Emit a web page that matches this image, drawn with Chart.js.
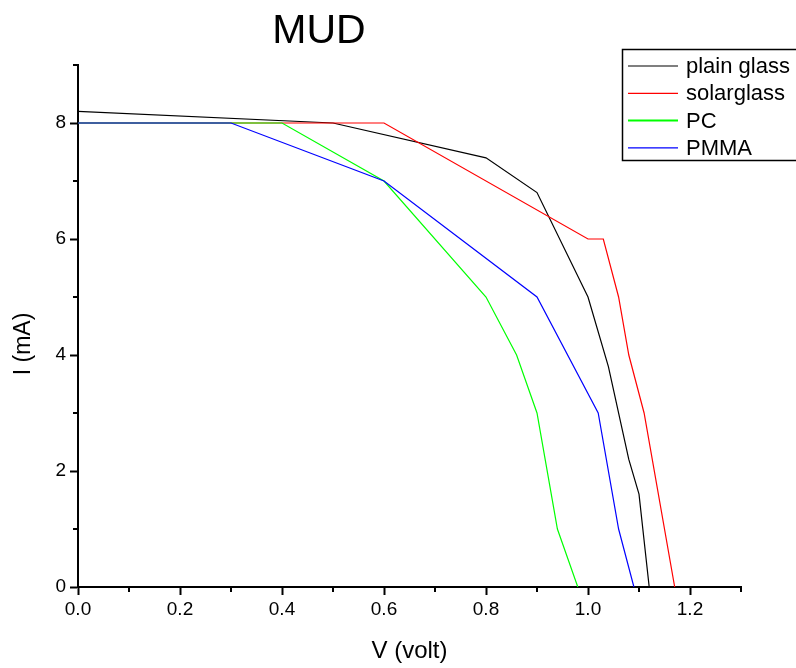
<!DOCTYPE html>
<html>
<head>
<meta charset="utf-8">
<script src="https://cdn.jsdelivr.net/npm/chart.js@4.4.1/dist/chart.umd.min.js"></script>
<style>
  body { margin: 0; background: #fff; }
  canvas { display: block; }
</style>
</head>
<body>
<canvas id="iv-chart" width="796" height="668"></canvas>
<script>
// valores (V em volt, I em mA)
const voltPlain = [0, 0.5, 0.8, 0.9, 1.0, 1.04, 1.08, 1.1, 1.12];
const currentPlain = [8.2, 8.0, 7.4, 6.8, 5.0, 3.8, 2.2, 1.6, 0];

const voltSolar = [0, 0.6, 1.0, 1.03, 1.06, 1.08, 1.11, 1.17];
const currentSolar = [8, 8, 6, 6, 5, 4, 3, 0];

const voltPC = [0, 0.4, 0.6, 0.8, 0.86, 0.9, 0.94, 0.98];
const currentPC = [8, 8, 7, 5, 4, 3, 1, 0];

const voltPMMA = [0, 0.3, 0.6, 0.9, 1.02, 1.06, 1.09];
const currentPMMA = [8, 8, 7, 5, 3, 1, 0];

const seriesNames = ['plain glass', 'solarglass', 'PC', 'PMMA'];
const seriesColors = ['#000000', '#ff0000', '#00ff00', '#0000ff'];

const minorTicksX = [0.1, 0.3, 0.5, 0.7, 0.9, 1.1, 1.3];
const minorTicksY = [1, 3, 5, 7, 9];

const fontFamily = '"Liberation Sans", Arial, sans-serif';

function toPoints(xs, ys) {
  return xs.map((v, i) => ({ x: v, y: ys[i] }));
}

const allSeries = [
  toPoints(voltPlain, currentPlain),
  toPoints(voltSolar, currentSolar),
  toPoints(voltPC, currentPC),
  toPoints(voltPMMA, currentPMMA),
];

// titulo, eixo I, ticks menores e legenda desenhados a mao
const extrasPlugin = {
  id: 'extras',
  afterDraw(chart) {
    const { ctx } = chart;
    const xScale = chart.scales.x;
    const yScale = chart.scales.y;
    ctx.save();

    ctx.strokeStyle = '#000';
    ctx.lineWidth = 2;
    for (const v of minorTicksX) {
      const px = xScale.getPixelForValue(v);
      ctx.beginPath();
      ctx.moveTo(px, yScale.bottom);
      ctx.lineTo(px, yScale.bottom + 5);
      ctx.stroke();
    }
    for (const v of minorTicksY) {
      const py = yScale.getPixelForValue(v);
      ctx.beginPath();
      ctx.moveTo(xScale.left, py);
      ctx.lineTo(xScale.left - 5, py);
      ctx.stroke();
    }

    ctx.fillStyle = '#000';
    ctx.font = '41px ' + fontFamily;
    ctx.textAlign = 'center';
    ctx.textBaseline = 'alphabetic';
    ctx.fillText('MUD', 319, 43);

    ctx.save();
    ctx.translate(24, 344);
    ctx.rotate(-Math.PI / 2);
    ctx.font = '23px ' + fontFamily;
    ctx.textBaseline = 'middle';
    ctx.fillText('I (mA)', 0, 0);
    ctx.restore();

    // legenda
    ctx.lineWidth = 1.5;
    ctx.strokeStyle = '#000';
    ctx.strokeRect(622.5, 49.5, 190, 111);
    ctx.font = '22px ' + fontFamily;
    ctx.textAlign = 'left';
    ctx.textBaseline = 'middle';
    seriesNames.forEach((name, i) => {
      const rowY = 66 + i * 27.3;
      ctx.strokeStyle = seriesColors[i];
      ctx.lineWidth = i === 2 ? 2 : 1.2;
      ctx.beginPath();
      ctx.moveTo(628, rowY);
      ctx.lineTo(678, rowY);
      ctx.stroke();
      ctx.fillStyle = '#000';
      ctx.fillText(name, 686, rowY + 1);
    });

    ctx.restore();
  },
};

const chart = new Chart(document.getElementById('iv-chart'), {
  type: 'line',
  data: {
    datasets: allSeries.map((points, i) => ({
      label: seriesNames[i],
      data: points,
      borderColor: seriesColors[i],
      backgroundColor: seriesColors[i],
      borderWidth: 1.2,
      pointRadius: 0,
      tension: 0,
      fill: false,
      order: -i, // ultima serie fica por cima
    })),
  },
  options: {
    responsive: false,
    animation: false,
    layout: { padding: { left: 0, top: 65, right: 55, bottom: 0 } },
    plugins: {
      legend: { display: false },
      title: { display: false },
      tooltip: { enabled: false },
    },
    scales: {
      x: {
        type: 'linear',
        min: 0,
        max: 1.3,
        border: { color: '#000', width: 2 },
        grid: { drawOnChartArea: false, tickLength: 8, tickColor: '#000', tickWidth: 2 },
        ticks: {
          stepSize: 0.2,
          includeBounds: false,
          autoSkip: false,
          maxRotation: 0,
          color: '#000',
          padding: 3,
          font: { family: fontFamily, size: 19 },
          callback: (value) => Number(value).toFixed(1),
        },
        title: {
          display: true,
          text: 'V (volt)',
          color: '#000',
          font: { family: fontFamily, size: 24 },
          padding: { top: 0, bottom: 2 },
        },
        afterFit: (scale) => { scale.height = 81; },
      },
      y: {
        type: 'linear',
        min: 0,
        max: 9,
        border: { color: '#000', width: 2 },
        grid: { drawOnChartArea: false, tickLength: 8, tickColor: '#000', tickWidth: 2 },
        ticks: {
          stepSize: 2,
          includeBounds: false,
          color: '#000',
          padding: 4,
          font: { family: fontFamily, size: 19 },
        },
        afterFit: (scale) => { scale.width = 78; },
      },
    },
  },
  plugins: [extrasPlugin],
});
</script>
</body>
</html>
